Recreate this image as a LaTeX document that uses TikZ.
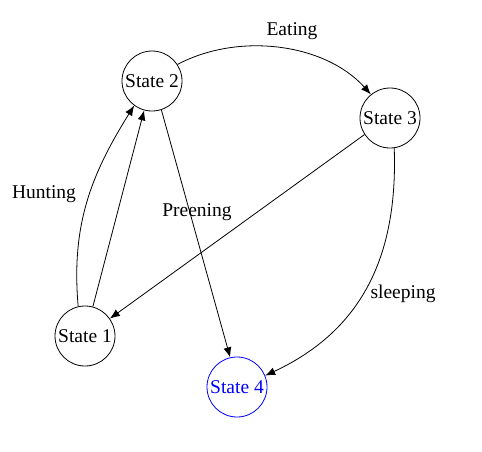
\documentclass[tikz,border=0pt]{standalone}
\usepackage{fontspec}
\setmainfont{Liberation Serif}
\usetikzlibrary{arrows.meta}
\definecolor{BLUE}{HTML}{0000FF}
\tikzset{
	every node/.style = {font=\fontsize{19.5}{23}\selectfont},
	state/.style = {circle, draw=black, line width=0.8pt, minimum size=60pt, inner sep=0pt},
	link/.style = {line width=0.8pt, -{Latex[length=10pt, width=8pt]}}
}
\begin{document}
\begin{tikzpicture}[x=1pt, y=-1pt]
		\useasboundingbox (0,0) rectangle (482,451);
		
		% states
		\node[state] (s2) at (152,81) {State 2};
		\node[state] (s3) at (390,118) {State 3};
		\node[state] (s1) at (85,336) {State 1};
		\node[state, draw=BLUE, text=BLUE] (s4) at (237,387) {State 4};
		
		% transitions
		\draw[link] (s2.33) to[out=28, in=132, looseness=0.9] (s3.129);
		\draw[link] (s1.103) to[out=95, in=238] (s2.234);
		\draw[link] (s1.75) -- (s2.255);
		\draw[link] (s2.288) -- (s4.103);
		\draw[link] (s3.213) -- (s1.35);
		\draw[link] (s3.278) to[out=-88, in=25, looseness=1.05] (s4.22);
		
		% labels
		\node (eating) at (292,31) {Eating};
		\node (hunting) at (44,194) {Hunting};
		\node (preening) at (197,212) {Preening};
		\node (sleeping) at (403,294) {sleeping};
	\end{tikzpicture}
\end{document}
